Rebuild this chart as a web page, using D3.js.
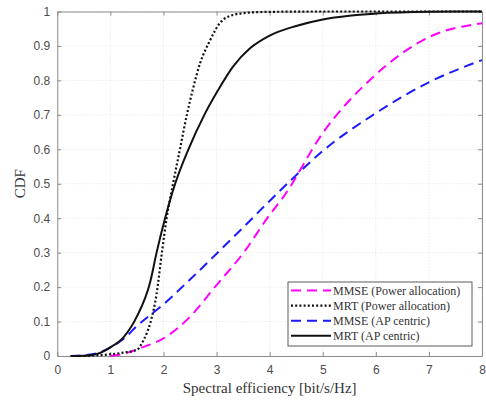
<!DOCTYPE html>
<html>
<head>
<meta charset="utf-8">
<script src="https://cdn.jsdelivr.net/npm/d3@7"></script>
<style>
  body { margin: 0; background: #fff; }
  .tick text { font-family: "Liberation Sans", Arial, sans-serif; font-size: 12px; fill: #4d4d4d; }
  .lab { font-family: "Liberation Serif", "DejaVu Serif", serif; fill: #333; }
</style>
</head>
<body>
<div id="chart"></div>
<script>
// curves
var mmsePaX = [1.0, 1.1, 1.37, 1.6, 2.0, 2.5, 3.0, 3.5, 4.0, 4.26, 5.0, 5.95, 7.02, 8.0];
var mmsePaY = [0, 0.002, 0.012, 0.025, 0.051, 0.114, 0.206, 0.298, 0.41, 0.462, 0.647, 0.81, 0.927, 0.966];

var mrtPaX = [0.5, 0.75, 1.0, 1.25, 1.5, 1.62, 1.75, 1.87, 1.97, 2.06, 2.18, 2.31, 2.44, 2.55, 2.69, 2.88, 3.06, 3.31, 3.63, 4.0, 5.0, 8.0];
var mrtPaY = [0, 0.002, 0.005, 0.01, 0.018, 0.045, 0.095, 0.18, 0.3, 0.4, 0.5, 0.6, 0.7, 0.772, 0.85, 0.917, 0.966, 0.99, 0.997, 0.999, 1, 1];

var mmseApX = [0.25, 0.5, 0.75, 1.0, 1.25, 1.5, 2.0, 2.5, 3.0, 3.5, 4.0, 4.5, 5.0, 5.95, 7.02, 8.0];
var mmseApY = [0, 0.002, 0.008, 0.025, 0.05, 0.087, 0.15, 0.222, 0.297, 0.373, 0.45, 0.525, 0.595, 0.70, 0.796, 0.859];

var mrtApX = [0.25, 0.5, 0.75, 1.0, 1.25, 1.5, 1.75, 1.87, 2.03, 2.22, 2.47, 2.77, 3.03, 3.31, 3.63, 4.0, 4.5, 5.0, 5.5, 6.0, 7.0, 8.0];
var mrtApY = [0, 0.001, 0.006, 0.025, 0.055, 0.115, 0.215, 0.3, 0.4, 0.5, 0.6, 0.7, 0.772, 0.84, 0.893, 0.93, 0.958, 0.977, 0.988, 0.994, 0.999, 1.0];

var xTicks = [0, 1, 2, 3, 4, 5, 6, 7, 8];
var yTicks = [0, 0.1, 0.2, 0.3, 0.4, 0.5, 0.6, 0.7, 0.8, 0.9, 1];
var names = ["MMSE (Power allocation)", "MRT (Power allocation)", "MMSE (AP centric)", "MRT (AP centric)"];

var width = 486, height = 401;
var margin = {top: 11.5, right: 4, bottom: 45, left: 57.3};
var w = width - margin.left - margin.right;
var h = height - margin.top - margin.bottom;

var svg = d3.select("#chart").append("svg")
    .attr("width", width)
    .attr("height", height);
var g = svg.append("g").attr("transform", "translate(" + margin.left + "," + margin.top + ")");

var x = d3.scaleLinear().domain([0, 8]).range([0, w]);
var y = d3.scaleLinear().domain([0, 1]).range([h, 0]);

// grid
g.selectAll("line.gx").data(xTicks).enter().append("line")
    .attr("x1", d => x(d)).attr("x2", d => x(d))
    .attr("y1", 0).attr("y2", h)
    .attr("stroke", "#dcdcdc").attr("stroke-width", 0.8).attr("stroke-dasharray", "1,2");
g.selectAll("line.gy").data(yTicks).enter().append("line")
    .attr("y1", d => y(d)).attr("y2", d => y(d))
    .attr("x1", 0).attr("x2", w)
    .attr("stroke", "#dcdcdc").attr("stroke-width", 0.8).attr("stroke-dasharray", "1,2");

// axes, ticks inward
var xAxis = d3.axisBottom(x).tickValues(xTicks).tickSizeInner(-4).tickSizeOuter(0).tickPadding(9).tickFormat(d3.format("d"));
var yAxis = d3.axisLeft(y).tickValues(yTicks).tickSizeInner(-4).tickSizeOuter(0).tickPadding(7).tickFormat(d => d === 0 || d === 1 ? String(d) : d.toFixed(1));
g.append("g").attr("transform", "translate(0," + h + ")").call(xAxis);
g.append("g").call(yAxis);
g.append("g").call(d3.axisTop(x).tickValues(xTicks).tickSizeInner(-4).tickSizeOuter(0).tickFormat(""));
g.append("g").attr("transform", "translate(" + w + ",0)").call(d3.axisRight(y).tickValues(yTicks).tickSizeInner(-4).tickSizeOuter(0).tickFormat(""));
g.selectAll(".domain").attr("stroke", "#8c8c8c");
g.selectAll(".tick line").attr("stroke", "#8c8c8c");

// curves
var series = [
  {xs: mmsePaX, ys: mmsePaY, color: "#ff00ff", dash: "10,6", sw: 2},
  {xs: mrtPaX, ys: mrtPaY, color: "#111", dash: "2,2.2", sw: 2.2},
  {xs: mmseApX, ys: mmseApY, color: "#1a1aff", dash: "10,6", sw: 2},
  {xs: mrtApX, ys: mrtApY, color: "#111", dash: null, sw: 2}
];
var line = d3.line().x(d => x(d[0])).y(d => y(d[1])).curve(d3.curveMonotoneX);
series.forEach(function (s) {
    g.append("path")
        .datum(d3.zip(s.xs, s.ys))
        .attr("d", line)
        .attr("fill", "none")
        .attr("stroke", s.color)
        .attr("stroke-width", s.sw)
        .attr("stroke-dasharray", s.dash);
});

// axis labels
svg.append("text").attr("class", "lab")
    .attr("x", margin.left + w / 2).attr("y", 393)
    .attr("text-anchor", "middle").attr("font-size", 15)
    .text("Spectral efficiency [bit/s/Hz]");
svg.append("text").attr("class", "lab")
    .attr("transform", "translate(25," + (margin.top + h / 2) + ") rotate(-90)")
    .attr("text-anchor", "middle").attr("font-size", 15)
    .text("CDF");

// legend
var leg = svg.append("g").attr("transform", "translate(288,282)");
leg.append("rect").attr("width", 184).attr("height", 64)
    .attr("fill", "#fff").attr("stroke", "#333").attr("stroke-width", 0.8);
series.forEach(function (s, i) {
    var ly = 8.5 + i * 15.1;
    leg.append("line")
        .attr("x1", 3).attr("x2", 43).attr("y1", ly).attr("y2", ly)
        .attr("stroke", s.color).attr("stroke-width", s.sw)
        .attr("stroke-dasharray", s.dash);
    leg.append("text").attr("class", "lab")
        .attr("x", 45).attr("y", ly + 4).attr("font-size", 12)
        .text(names[i]);
});
</script>
</body>
</html>
